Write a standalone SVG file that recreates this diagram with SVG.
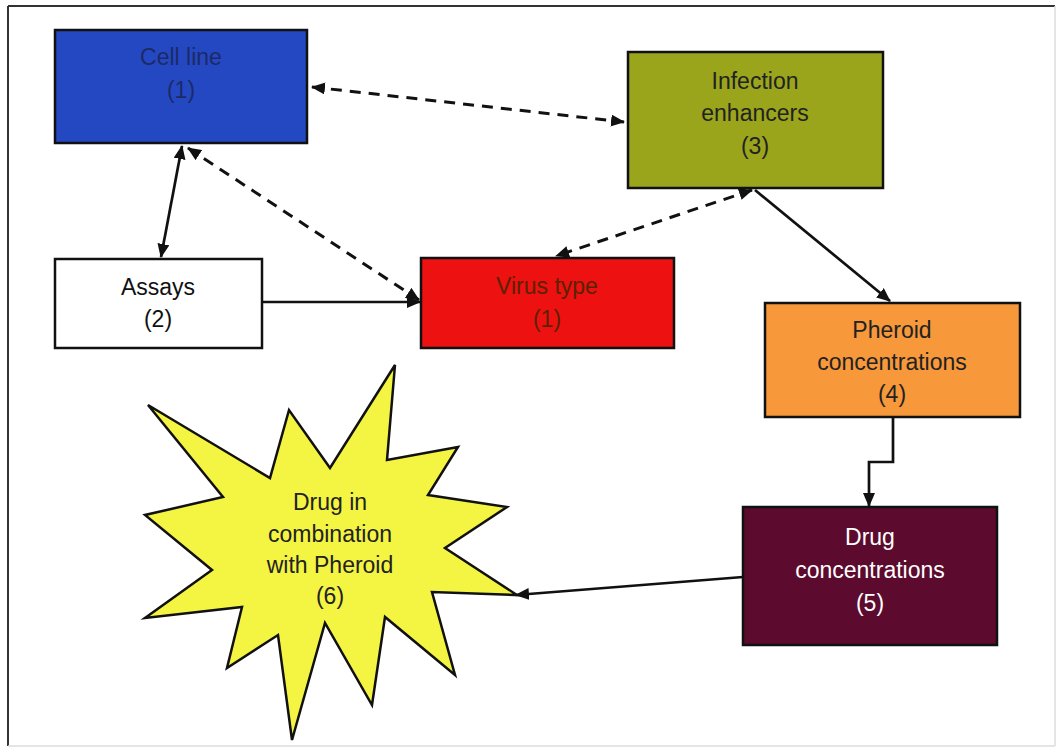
<svg xmlns="http://www.w3.org/2000/svg" width="1060" height="752" viewBox="0 0 1060 752">
<style>
  text { font-family: "Liberation Sans", Arial, sans-serif; font-size: 23px; text-anchor: middle; }
  .box { stroke: #111; stroke-width: 2.5; }
  .solid { stroke: #111; stroke-width: 2.7; fill: none; }
  .dash { stroke: #111; stroke-width: 3; fill: none; stroke-dasharray: 11 8; }
</style>
<defs>
  <marker id="ah" viewBox="0 0 14 12" refX="13" refY="6" markerWidth="14" markerHeight="12" markerUnits="userSpaceOnUse" orient="auto-start-reverse">
    <path d="M0,0 L14,6 L0,12 Z" fill="#111"/>
  </marker>
</defs>
<rect x="0" y="0" width="1060" height="752" fill="#ffffff"/>
<g id="frame">
  <line x1="8" y1="6" x2="1055" y2="6" stroke="#333" stroke-width="2"/>
  <line x1="8" y1="6" x2="8" y2="746" stroke="#333" stroke-width="2"/>
  <line x1="1055" y1="6" x2="1055" y2="746" stroke="#ddd" stroke-width="1.5"/>
  <line x1="8" y1="746" x2="1055" y2="746" stroke="#ddd" stroke-width="1.5"/>
</g>
<g id="connectors">
  <line class="dash" x1="312" y1="87" x2="624" y2="122" marker-start="url(#ah)" marker-end="url(#ah)"/>
  <line class="solid" x1="182" y1="146" x2="161" y2="257" marker-start="url(#ah)" marker-end="url(#ah)"/>
  <line class="dash" x1="188" y1="148" x2="419" y2="300" marker-start="url(#ah)" marker-end="url(#ah)"/>
  <line class="solid" x1="263" y1="302" x2="420" y2="302" marker-end="url(#ah)"/>
  <line class="dash" x1="752" y1="190" x2="556" y2="256" marker-start="url(#ah)" marker-end="url(#ah)"/>
  <line class="solid" x1="755" y1="190" x2="890" y2="301" marker-end="url(#ah)"/>
  <polyline class="solid" points="893,417 893,462 869,462 869,506" marker-end="url(#ah)"/>
  <line class="solid" x1="743" y1="577" x2="516" y2="595" marker-end="url(#ah)"/>
</g>
<g id="cell-line">
  <rect class="box" x="55" y="30" width="252" height="113" fill="#2448c2"/>
  <text x="181" y="65" fill="#1c2a66">Cell line</text>
  <text x="181" y="98" fill="#1c2a66">(1)</text>
</g>
<g id="infection-enhancers">
  <rect class="box" x="628" y="52" width="255" height="136" fill="#9aa51c"/>
  <text x="755" y="89" fill="#222">Infection</text>
  <text x="755" y="121" fill="#222">enhancers</text>
  <text x="755" y="154" fill="#222">(3)</text>
</g>
<g id="assays">
  <rect class="box" x="55" y="259" width="207" height="89" fill="#ffffff"/>
  <text x="158" y="295" fill="#111">Assays</text>
  <text x="158" y="327" fill="#111">(2)</text>
</g>
<g id="virus-type">
  <rect class="box" x="421" y="258" width="253" height="90" fill="#ee1111"/>
  <text x="547" y="294" fill="#5a2200">Virus type</text>
  <text x="547" y="327" fill="#5a2200">(1)</text>
</g>
<g id="pheroid-concentrations">
  <rect class="box" x="765" y="303" width="255" height="114" fill="#f7983a"/>
  <text x="892" y="338" fill="#222">Pheroid</text>
  <text x="892" y="370" fill="#222">concentrations</text>
  <text x="892" y="402" fill="#222">(4)</text>
</g>
<g id="drug-concentrations">
  <rect class="box" x="743" y="507" width="254" height="138" fill="#5c0a2e"/>
  <text x="870" y="545" fill="#ffffff">Drug</text>
  <text x="870" y="578" fill="#ffffff">concentrations</text>
  <text x="870" y="611" fill="#ffffff">(5)</text>
</g>
<g id="drug-combination">
  <polygon points="148,405 270,478 289,410 330,468 395,365 387,460 458,447 428,495 507,507 445,548 517,595 432,592 455,675 385,617 372,705 325,623 292,740 278,635 227,668 242,607 145,618 212,570 145,515 223,497" fill="#f4f443" stroke="#111" stroke-width="2.5" stroke-linejoin="miter"/>
  <text x="330" y="510" fill="#222">Drug in</text>
  <text x="330" y="542" fill="#222">combination</text>
  <text x="330" y="573" fill="#222">with Pheroid</text>
  <text x="330" y="604" fill="#222">(6)</text>
</g>
</svg>
